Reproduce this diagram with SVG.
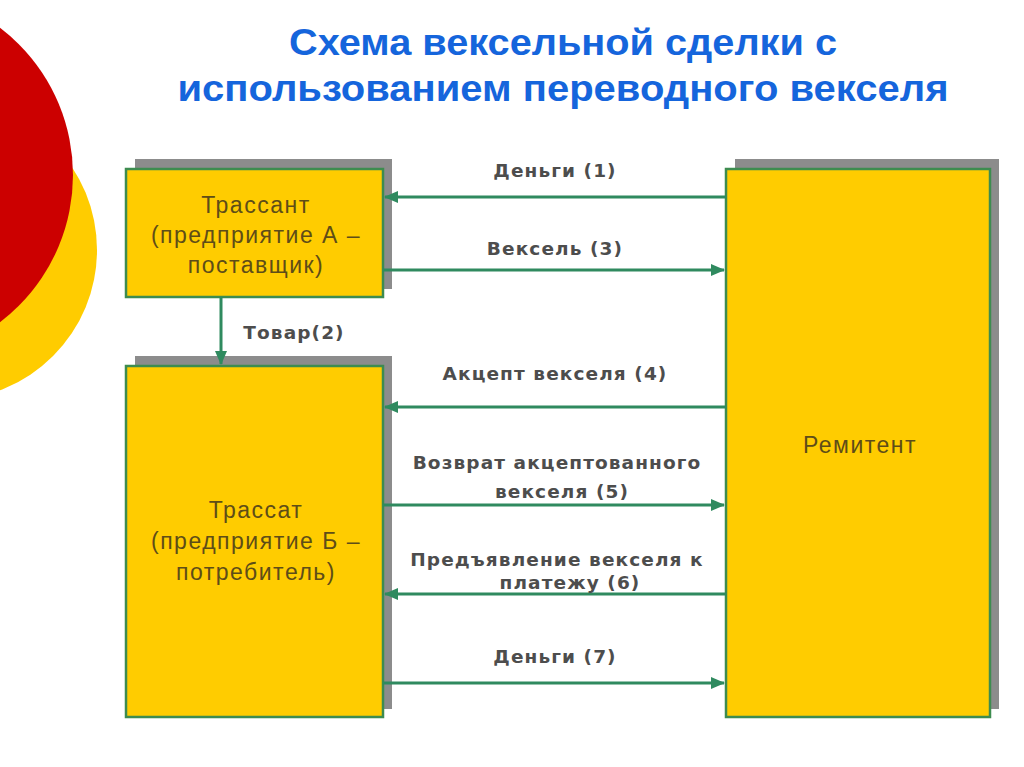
<svg xmlns="http://www.w3.org/2000/svg" width="1024" height="767" viewBox="0 0 1024 767">
<defs>
<style>
.title{font-family:"Liberation Sans",Arial,sans-serif;font-weight:bold;font-size:37px;fill:#1565dc;text-anchor:middle}
.node{fill:#ffcc00;stroke:#3d8c4f;stroke-width:2.5}
.shadow{fill:#8c8c8c}
.ntext{font-family:"Liberation Sans",Arial,sans-serif;font-size:23px;letter-spacing:1.5px;fill:#5e4d18;text-anchor:middle}
.conn{stroke:#2f8a5f;stroke-width:3;fill:none}
.clabel{font-family:"DejaVu Sans",Verdana,sans-serif;font-weight:bold;font-size:18.5px;letter-spacing:1.1px;fill:#4d4d4d;text-anchor:middle}
</style>
<marker id="ah" viewBox="0 0 14 12" refX="13" refY="6" markerWidth="14" markerHeight="12" markerUnits="userSpaceOnUse" orient="auto">
<path d="M0,0 L14,6 L0,12 Z" fill="#2f8a5f"/>
</marker>
</defs>
<rect width="1024" height="767" fill="#ffffff"/>
<g id="decor">
<circle cx="-53" cy="250" r="150" fill="#ffcc00"/>
<circle cx="-112" cy="175" r="185" fill="#cc0000"/>
</g>
<g id="title">
<text class="title" x="563" y="55" textLength="548" lengthAdjust="spacingAndGlyphs">Схема вексельной сделки с</text>
<text class="title" x="563" y="101" textLength="771" lengthAdjust="spacingAndGlyphs">использованием переводного векселя</text>
</g>
<g id="trassant">
<rect class="shadow" x="135" y="159" width="257" height="130"/>
<rect class="node" x="126" y="169" width="257" height="128"/>
<text class="ntext" x="256" y="213">Трассант</text>
<text class="ntext" x="256" y="243">(предприятие А –</text>
<text class="ntext" x="256" y="273">поставщик)</text>
</g>
<g id="trassat">
<rect class="shadow" x="135" y="356" width="257" height="353"/>
<rect class="node" x="126" y="366" width="257" height="351"/>
<text class="ntext" x="256" y="518">Трассат</text>
<text class="ntext" x="256" y="549">(предприятие Б –</text>
<text class="ntext" x="256" y="580">потребитель)</text>
</g>
<g id="remitent">
<rect class="shadow" x="735" y="159" width="264" height="550"/>
<rect class="node" x="726" y="169" width="264" height="548"/>
<text class="ntext" x="860" y="453">Ремитент</text>
</g>
<g id="connectors">
<line class="conn" x1="726" y1="197" x2="385" y2="197" marker-end="url(#ah)"/>
<text class="clabel" x="555" y="177">Деньги (1)</text>
<line class="conn" x1="383" y1="270" x2="724" y2="270" marker-end="url(#ah)"/>
<text class="clabel" x="555" y="255">Вексель (3)</text>
<line class="conn" x1="221" y1="297" x2="221" y2="364" marker-end="url(#ah)"/>
<text class="clabel" x="294" y="339">Товар(2)</text>
<line class="conn" x1="726" y1="407" x2="385" y2="407" marker-end="url(#ah)"/>
<text class="clabel" x="555" y="380">Акцепт векселя (4)</text>
<line class="conn" x1="383" y1="505" x2="724" y2="505" marker-end="url(#ah)"/>
<text class="clabel" x="557" y="469">Возврат акцептованного</text>
<text class="clabel" x="562" y="498">векселя (5)</text>
<line class="conn" x1="726" y1="594" x2="385" y2="594" marker-end="url(#ah)"/>
<text class="clabel" x="557" y="566">Предъявление векселя к</text>
<text class="clabel" x="570" y="589">платежу (6)</text>
<line class="conn" x1="383" y1="683" x2="724" y2="683" marker-end="url(#ah)"/>
<text class="clabel" x="555" y="663">Деньги (7)</text>
</g>
</svg>
